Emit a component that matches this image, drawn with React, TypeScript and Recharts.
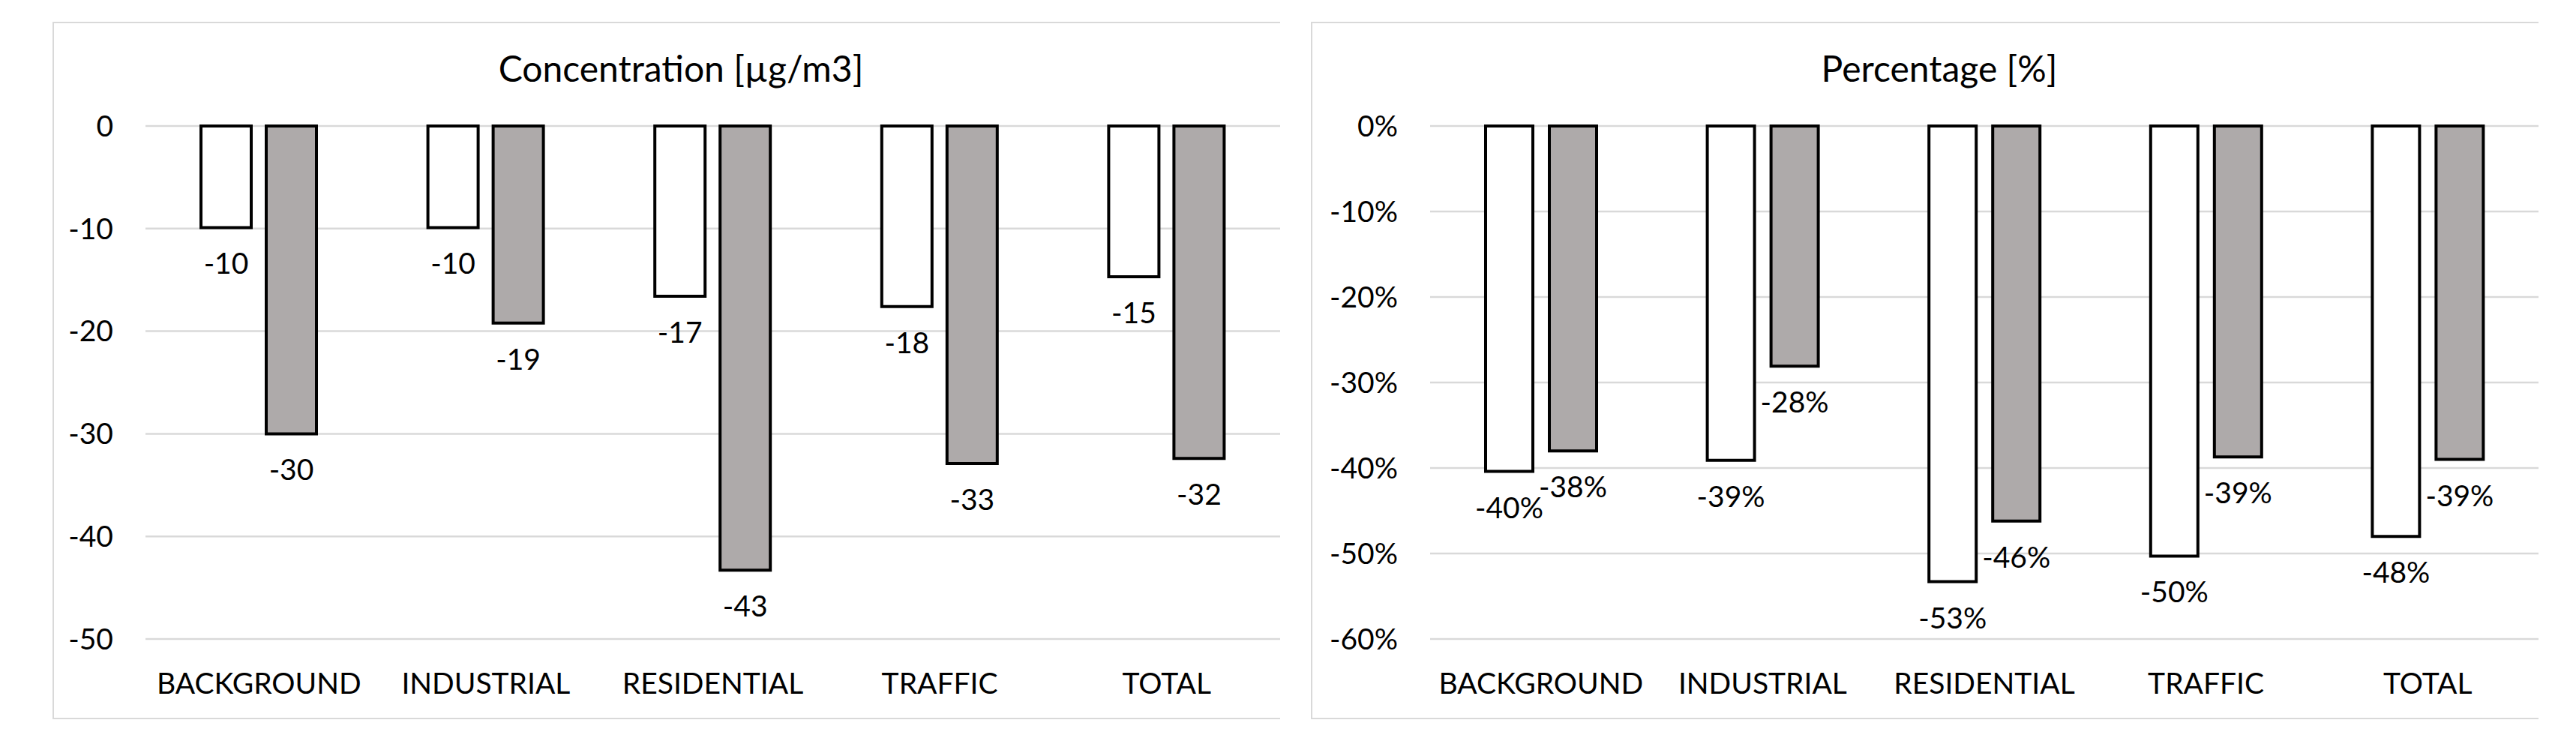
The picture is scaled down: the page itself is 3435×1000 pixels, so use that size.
import React from 'react';
import { BarChart, Bar, XAxis, YAxis, CartesianGrid, LabelList } from 'recharts';

const categories = ['BACKGROUND', 'INDUSTRIAL', 'RESIDENTIAL', 'TRAFFIC', 'TOTAL'];

// concentration change [µg/m3]
const concWhite = [-9.9, -9.9, -16.6, -17.6, -14.7];
const concGrey = [-30.0, -19.2, -43.3, -32.9, -32.4];

// percentage change [%]
const pctWhite = [-40.4, -39.1, -53.3, -50.3, -48.0];
const pctGrey = [-38.0, -28.1, -46.2, -38.7, -39.0];

const concTicks = [0, -10, -20, -30, -40, -50];
const pctTicks = [0, -10, -20, -30, -40, -50, -60];

const concData = categories.map((name, i) => ({ name, a: concWhite[i], b: concGrey[i] }));
const pctData = categories.map((name, i) => ({ name, a: pctWhite[i], b: pctGrey[i] }));

const FONT = 'Lato, sans-serif';
const GRID = '#D9D9D9';
const GREY = '#AEAAAA';

const makeLabel = (fmt: (v: number) => string) => (props: any) => {
  const { x, y, width, height, value } = props;
  const bottom = Math.max(Number(y), Number(y) + Number(height));
  return (
    <text
      x={Number(x) + Number(width) / 2}
      y={bottom + 47}
      textAnchor="middle"
      dominantBaseline="central"
      fontSize={39}
      fill="#000"
    >
      {fmt(Number(value))}
    </text>
  );
};

type PanelProps = {
  left: number;
  title: string;
  titleX: number;
  data: any[];
  ticks: number[];
  yWidth: number;
  tickFmt: (v: number) => string;
  labelFmt: (v: number) => string;
  barSize: number;
  barGap: number;
};

function Panel({ left, title, titleX, data, ticks, yWidth, tickFmt, labelFmt, barSize, barGap }: PanelProps) {
  const min = Math.min(...ticks);
  return (
    <div
      style={{
        position: 'absolute',
        left,
        top: 29,
        width: 1637,
        height: 930,
        borderLeft: `2px solid ${GRID}`,
        borderTop: `2px solid ${GRID}`,
        borderBottom: `2px solid ${GRID}`,
        boxSizing: 'border-box',
      }}
    >
      <div
        style={{
          position: 'absolute',
          left: titleX - left - 400,
          width: 800,
          top: 30,
          height: 60,
          lineHeight: '60px',
          textAlign: 'center',
          fontSize: 48,
          color: '#000',
        }}
      >
        {title}
      </div>
      <div style={{ position: 'absolute', left: -2, top: -2 }}>
        <BarChart
          width={1637}
          height={930}
          data={data}
          margin={{ top: 139, right: 0, left: 0, bottom: 0 }}
          barSize={barSize}
          barGap={barGap}
        >
          <CartesianGrid vertical={false} stroke={GRID} strokeWidth={2.5} />
          <XAxis
            dataKey="name"
            height={107}
            axisLine={false}
            tickLine={false}
            tickSize={0}
            tickMargin={45}
            tick={{ fontSize: 39, fill: '#000' }}
            interval={0}
          />
          <YAxis
            width={yWidth}
            domain={[min, 0]}
            ticks={ticks}
            axisLine={false}
            tickLine={false}
            tickSize={0}
            tickMargin={43}
            tick={{ fontSize: 39, fill: '#000' }}
            tickFormatter={tickFmt}
          />
          <Bar dataKey="a" fill="#FFFFFF" stroke="#000" strokeWidth={4} isAnimationActive={false}>
            <LabelList dataKey="a" content={makeLabel(labelFmt)} />
          </Bar>
          <Bar dataKey="b" fill={GREY} stroke="#000" strokeWidth={4} isAnimationActive={false}>
            <LabelList dataKey="b" content={makeLabel(labelFmt)} />
          </Bar>
        </BarChart>
      </div>
    </div>
  );
}

export default function App() {
  return (
    <div
      style={{
        position: 'absolute',
        left: 0,
        top: 0,
        width: 3435,
        height: 1000,
        background: '#fff',
        fontFamily: FONT,
      }}
    >
      <Panel
        left={70}
        title="Concentration [µg/m3]"
        titleX={906}
        data={concData}
        ticks={concTicks}
        yWidth={124}
        tickFmt={(v) => String(v)}
        labelFmt={(v) => String(Math.round(v))}
        barSize={67}
        barGap={20}
      />
      <Panel
        left={1748}
        title="Percentage [%]"
        titleX={2584}
        data={pctData}
        ticks={pctTicks}
        yWidth={159}
        tickFmt={(v) => `${v}%`}
        labelFmt={(v) => `${Math.round(v)}%`}
        barSize={63}
        barGap={22}
      />
    </div>
  );
}
